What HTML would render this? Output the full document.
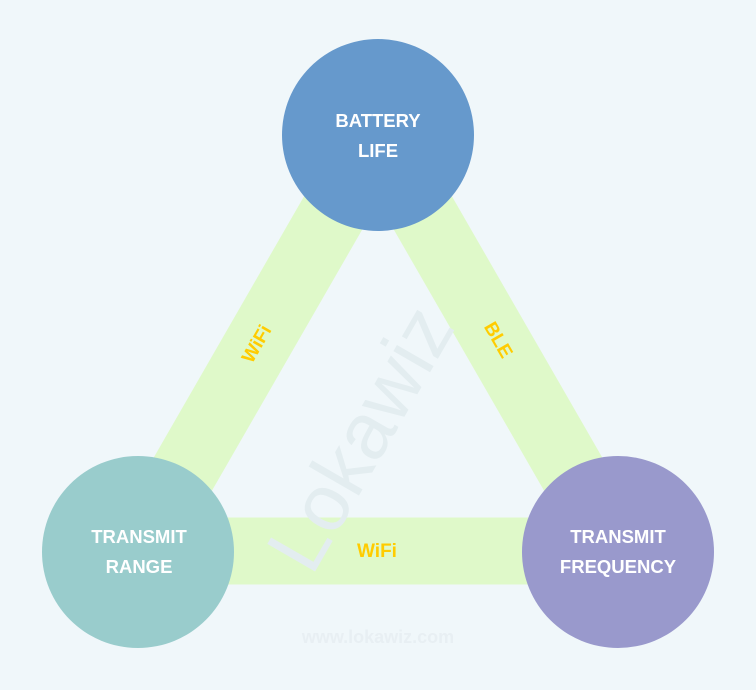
<!DOCTYPE html>
<html><head><meta charset="utf-8"><style>
html,body{margin:0;padding:0;background:#f0f7fa;}
svg{display:block;}
</style></head><body>
<svg width="756" height="690" viewBox="0 0 756 690" xmlns="http://www.w3.org/2000/svg" font-family="Liberation Sans, Arial, sans-serif">
<rect width="756" height="690" fill="#f0f7fa"/>
<g stroke="#dff9c9" stroke-width="67">
<line x1="138" y1="552" x2="378" y2="135"/>
<line x1="618" y1="552" x2="378" y2="135"/>
<line x1="138" y1="551" x2="618" y2="551"/>
</g>
<text x="0" y="0" transform="translate(384,452) rotate(-60)" text-anchor="middle" font-size="80" fill="#e3edf0">Lokawiz</text>
<text x="378" y="643" text-anchor="middle" font-size="18" font-weight="bold" fill="#e8eff3">www.lokawiz.com</text>
<circle cx="378" cy="135" r="96" fill="#6699cc"/>
<circle cx="138" cy="552" r="96" fill="#99cccc"/>
<circle cx="618" cy="552" r="96" fill="#9999cc"/>
<g fill="#ffffff" font-weight="bold" font-size="18.5" text-anchor="middle">
<text x="378" y="127">BATTERY</text>
<text x="378" y="157">LIFE</text>
<text x="139" y="543">TRANSMIT</text>
<text x="139" y="573">RANGE</text>
<text x="618" y="543">TRANSMIT</text>
<text x="618" y="573">FREQUENCY</text>
</g>
<g fill="#ffcc00" font-weight="bold" font-size="19" text-anchor="middle">
<text transform="translate(262,347) rotate(-60)">WiFi</text>
<text transform="translate(493,343) rotate(60)">BLE</text>
<text x="377" y="557">WiFi</text>
</g>
</svg>
</body></html>
